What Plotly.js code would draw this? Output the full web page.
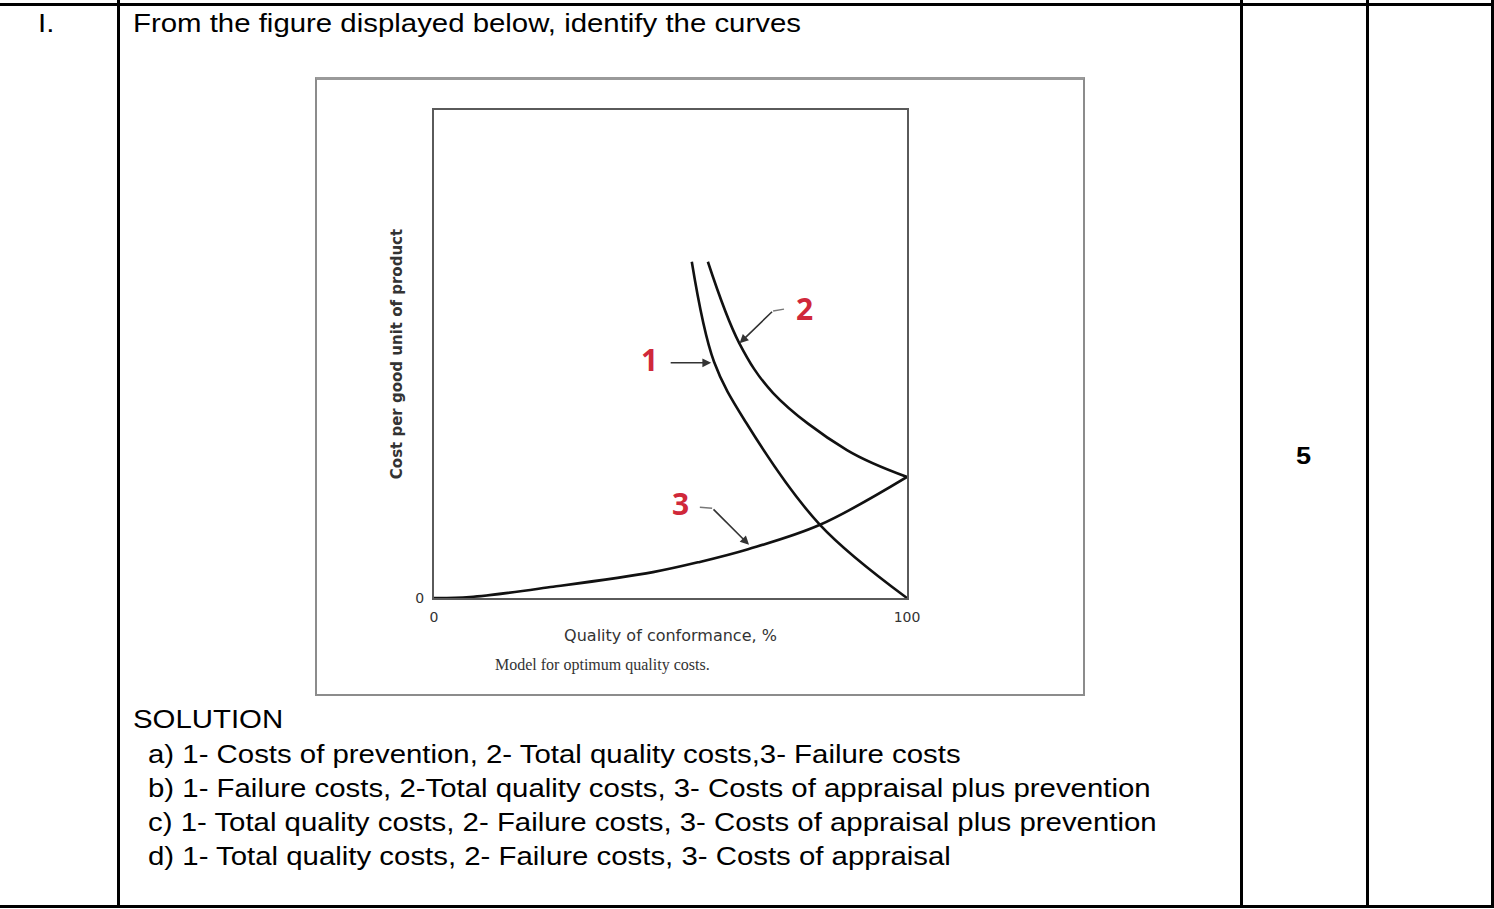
<!DOCTYPE html>
<html>
<head>
<meta charset="utf-8">
<script src="https://cdn.plot.ly/plotly-3.0.1.min.js"></script>
<style>
  html, body { margin:0; padding:0; background:#fff; }
  body { width:1494px; height:909px; position:relative; overflow:hidden; font-family:"Liberation Sans", Arial, sans-serif; color:#000; }
  .ln { position:absolute; background:#000; }
  .txt { position:absolute; white-space:nowrap; line-height:1; transform:scaleX(1.13); transform-origin:0 0; }
  #frame { position:absolute; left:315px; top:77px; width:766px; height:614px; border:2px solid #8c8c8c; border-top:3px solid #9a9a9a; box-sizing:content-box; }
  #chart { position:absolute; left:0; top:0; width:1494px; height:909px; }
</style>
</head>
<body>
<div id="frame"></div>
<div id="chart"></div>

<!-- table rules -->
<div class="ln" style="left:0;top:3px;width:1494px;height:3px;"></div>
<div class="ln" style="left:0;top:905px;width:1494px;height:3px;"></div>
<div class="ln" style="left:117px;top:0;width:3px;height:908px;"></div>
<div class="ln" style="left:1240px;top:0;width:3px;height:908px;"></div>
<div class="ln" style="left:1366px;top:0;width:3px;height:908px;"></div>
<div class="ln" style="left:1491px;top:0;width:3px;height:908px;"></div>

<div class="txt" id="qnum" style="left:38px;top:10px;font-size:26px;">I.</div>
<div class="txt" id="qtext" style="left:133px;top:10px;font-size:26px;">From the figure displayed below, identify the curves</div>
<div class="txt" id="marks" style="left:1296px;top:444px;font-size:24px;font-weight:bold;">5</div>
<div class="txt" id="sol" style="left:133px;top:706px;font-size:26px;">SOLUTION</div>
<div class="txt opt" style="left:148px;top:741px;font-size:26px;">a) 1- Costs of prevention, 2- Total quality costs,3- Failure costs</div>
<div class="txt opt" style="left:148px;top:775px;font-size:26px;">b) 1- Failure costs, 2-Total quality costs, 3- Costs of appraisal plus prevention</div>
<div class="txt opt" style="left:148px;top:809px;font-size:26px;">c) 1- Total quality costs, 2- Failure costs, 3- Costs of appraisal plus prevention</div>
<div class="txt opt" style="left:148px;top:843px;font-size:26px;">d) 1- Total quality costs, 2- Failure costs, 3- Costs of appraisal</div>

<script>
// ---- data (x: quality of conformance %, y: relative cost) ----
const curve1X = [54.5, 59.2, 66.0, 81.6, 100];
const curve1Y = [68.9, 48.4, 35.9, 15.0, 0];

const curve2X = [57.9, 64.5, 71.7, 87.3, 100];
const curve2Y = [68.9, 52.3, 42.0, 30.3, 24.8];

const curve3X = [0, 7.6, 25.2, 46.3, 56.2, 66.4, 81.6, 100];
const curve3Y = [0, 0.2, 2.3, 5.3, 7.4, 10.0, 15.0, 24.8];

const xTickVals = [0, 100];
const xTickText = ['0', '100'];
const yTickVals = [0];
const yTickText = ['0'];

const curveLabels = ['1', '2', '3'];
const labelX = [45.5, 78.4, 52.2];
const labelY = [48.8, 59.4, 19.3];

const lineStyle = {color:'#111', width:2.6, shape:'spline', smoothing:1.0};
const traces = [
  {x:curve1X, y:curve1Y, type:'scatter', mode:'lines', line:lineStyle, name:'1', hoverinfo:'skip'},
  {x:curve2X, y:curve2Y, type:'scatter', mode:'lines', line:lineStyle, name:'2', hoverinfo:'skip'},
  {x:curve3X, y:curve3Y, type:'scatter', mode:'lines', line:lineStyle, name:'3', hoverinfo:'skip'}
];

const red = '#d0283a';
const labelFont = {family:'"Open Sans", "Liberation Sans", sans-serif', size:30, color:red, weight:'bold'};
const annotations = curveLabels.map((t,i)=>({
  x:labelX[i], y:labelY[i], xref:'x', yref:'y', text:'<b>'+t+'</b>', showarrow:false, font:labelFont
}));

// leader arrows (pointing to curves)
const arrowColor = '#333';
annotations.push(
  {x:58.6, y:48.2, ax:-42, ay:0, xref:'x', yref:'y', text:'', showarrow:true, arrowhead:2, arrowsize:1.1, arrowwidth:1.6, arrowcolor:arrowColor},
  {x:64.6, y:52.2, ax:34, ay:-33, xref:'x', yref:'y', text:'', showarrow:true, arrowhead:2, arrowsize:1.1, arrowwidth:1.6, arrowcolor:arrowColor},
  {x:66.6, y:10.9, ax:-37, ay:-37, xref:'x', yref:'y', text:'', showarrow:true, arrowhead:2, arrowsize:1.1, arrowwidth:1.6, arrowcolor:arrowColor},
  {x:0.356, y:-0.137, xref:'paper', yref:'paper', xanchor:'center', yanchor:'middle', text:'Model for optimum quality costs.', showarrow:false,
   font:{family:'"Liberation Serif", "DejaVu Serif", serif', size:16, color:'#333'}}
);

const shapes = [
  {type:'line', xref:'x', yref:'y', x0:74.0, y0:59.2, x1:71.7, y1:58.8, line:{color:'#777', width:1.4}},
  {type:'line', xref:'x', yref:'y', x0:56.2, y0:18.6, x1:58.8, y1:18.4, line:{color:'#777', width:1.4}}
];

const axisFam = '"DejaVu Sans", Verdana, sans-serif';
const layout = {
  width:1494, height:909,
  margin:{l:434, r:587, t:110, b:311, pad:0},
  paper_bgcolor:'rgba(0,0,0,0)', plot_bgcolor:'#fff',
  showlegend:false,
  xaxis:{range:[0,100], showgrid:false, zeroline:false, showline:true, mirror:true, linecolor:'#5a5a5a', linewidth:2,
         tickvals:xTickVals, ticktext:xTickText, ticks:'outside', ticklen:5, tickcolor:'rgba(0,0,0,0)',
         tickfont:{family:axisFam, size:14, color:'#333'},
         title:{text:'Quality of conformance, %', font:{family:axisFam, size:16, color:'#333'}, standoff:6}},
  yaxis:{range:[0,100], showgrid:false, zeroline:false, showline:true, mirror:true, linecolor:'#5a5a5a', linewidth:2,
         tickvals:yTickVals, ticktext:yTickText, ticks:'outside', ticklen:5, tickcolor:'rgba(0,0,0,0)',
         tickfont:{family:axisFam, size:14, color:'#333'},
         title:{text:'Cost per good unit of product', font:{family:axisFam, size:15, color:'#333', weight:'bold'}, standoff:9}},
  annotations:annotations,
  shapes:shapes
};

Plotly.newPlot('chart', traces, layout, {staticPlot:true, displayModeBar:false});
</script>
</body>
</html>
